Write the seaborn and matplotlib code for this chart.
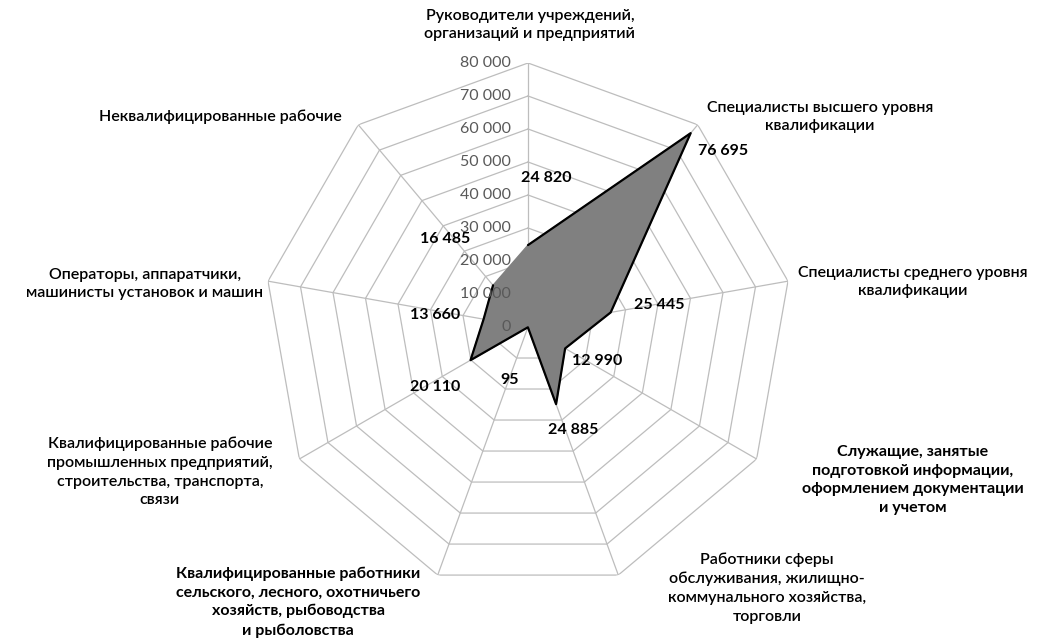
import numpy as np
import pandas as pd
import matplotlib
matplotlib.use("Agg")
import matplotlib.pyplot as plt
import seaborn as sns

categories = [
    "Руководители учреждений,\nорганизаций и предприятий",
    "Специалисты высшего уровня\nквалификации",
    "Специалисты среднего уровня\nквалификации",
    "Служащие, занятые\nподготовкой информации,\nоформлением документации\nи учетом",
    "Работники сферы\nобслуживания, жилищно-\nкоммунального хозяйства,\nторговли",
    "Квалифицированные работники\nсельского, лесного, охотничьего\nхозяйств, рыбоводства\nи рыболовства",
    "Квалифицированные рабочие\nпромышленных предприятий,\nстроительства, транспорта,\nсвязи",
    "Операторы, аппаратчики,\nмашинисты установок и машин",
    "Неквалифицированные рабочие",
]
values = [24820, 76695, 25445, 12990, 24885, 95, 20110, 13660, 16485]
value_labels = ["24 820", "76 695", "25 445", "12 990", "24 885", "95", "20 110", "13 660", "16 485"]
ticks = [0, 10000, 20000, 30000, 40000, 50000, 60000, 70000, 80000]
tick_labels = ["0", "10 000", "20 000", "30 000", "40 000", "50 000", "60 000", "70 000", "80 000"]

# layout (offsets of value labels from their vertex, pixels; category label centers, figure px)
label_offsets = [(18, 67), (32, -18), (49, 7), (32, -13), (17, -26), (-18, -53), (-35, -27), (-49, 4), (-48, 46)]
cat_pos = [(530, 25), (820, 117), (913, 282), (913, 480), (767, 588), (298, 602), (160, 472), (145, 284), (220, 117)]
cat_weight = [600, 600, 600, "bold", 600, "bold", 600, 600, 600]

sns.set_style("white")
plt.rcParams["font.family"] = ["Lato", "DejaVu Sans"]

W, H = 1045, 643
fig = plt.figure(figsize=(W / 100, H / 100), dpi=100)
cx, cy, R = 528, 327, 264
ax = fig.add_axes([(cx - R) / W, (H - cy - R) / H, 2 * R / W, 2 * R / H], projection="polar")
ax.set_theta_zero_location("N")
ax.set_theta_direction(-1)
ax.grid(False)
ax.spines["polar"].set_visible(False)
ax.patch.set_alpha(0)

n = len(categories)
angles = np.arange(n) * 2 * np.pi / n
closed_ang = np.append(angles, angles[0])

grid_color = "#bdbdbd"
for t in ticks[1:]:
    ax.plot(closed_ang, [t] * (n + 1), color=grid_color, lw=0.9, zorder=1)
for a in angles:
    ax.plot([a, a], [0, ticks[-1]], color=grid_color, lw=0.9, zorder=1)

df = pd.DataFrame({"angle": closed_ang, "value": values + values[:1]})
ax.fill(df["angle"], df["value"], color="#808080", zorder=2)
sns.lineplot(data=df, x="angle", y="value", sort=False, color="black", lw=1.6, ax=ax, zorder=3)
ax.set_xlabel("")
ax.set_ylabel("")
ax.set_xticks([])
ax.set_yticks([])
ax.set_ylim(0, ticks[-1])

for t, tl in zip(ticks, tick_labels):
    ax.annotate(tl, xy=(0, t), xytext=(-17, 0), textcoords="offset pixels",
                ha="right", va="center", fontsize=11.5, color="#595959", zorder=4)

for a, v, vl, off in zip(angles, values, value_labels, label_offsets):
    ax.annotate(vl, xy=(a, v), xytext=off, textcoords="offset pixels",
                ha="center", va="center", fontsize=11.5, fontweight="bold", color="black", zorder=5)

for c, (px, py), w in zip(categories, cat_pos, cat_weight):
    fig.text(px / W, 1 - py / H, c, ha="center", va="center", fontsize=11.5,
             fontweight=w, color="black", linespacing=1.42)

fig.savefig("out.png", dpi=100, facecolor="white")
